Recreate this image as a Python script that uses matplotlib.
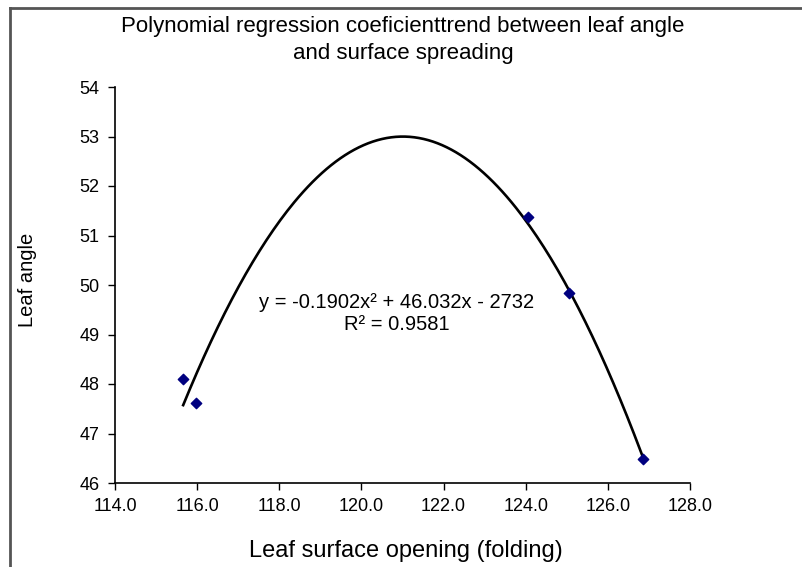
import numpy as np
import matplotlib
matplotlib.use("Agg")
import matplotlib.pyplot as plt
from matplotlib.lines import Line2D

plt.rcParams['font.family'] = ['Liberation Sans', 'DejaVu Sans']

# Data
leaf_surface_opening = [115.66, 115.97, 124.05, 125.05, 126.86]
leaf_angle = [48.10, 47.62, 51.37, 49.84, 46.48]

title = "Polynomial regression coeficienttrend between leaf angle\nand surface spreading"
xlabel = "Leaf surface opening (folding)"
ylabel = "Leaf angle"
equation_text = "y = -0.1902x\u00b2 + 46.032x - 2732\nR\u00b2 = 0.9581"
x_ticks = [114.0, 116.0, 118.0, 120.0, 122.0, 124.0, 126.0, 128.0]
y_ticks = [46, 47, 48, 49, 50, 51, 52, 53, 54]

W, H = 803, 567
fig = plt.figure(figsize=(W / 100, H / 100), dpi=100)
ax = fig.add_axes([115 / W, 1 - 483 / H, (690 - 115) / W, (483 - 87) / H])

# Polynomial (order 2) trendline fitted to the data
coef = np.polyfit(leaf_surface_opening, leaf_angle, 2)
xs = np.linspace(min(leaf_surface_opening), max(leaf_surface_opening), 200)
ax.plot(xs, np.polyval(coef, xs), color='black', lw=1.9, zorder=2)

ax.scatter(leaf_surface_opening, leaf_angle, marker='D', s=28, color='#000080', zorder=3)

ax.set_xlim(114, 128)
ax.set_ylim(46, 54)
ax.set_xticks(x_ticks)
ax.set_xticklabels([f"{t:.1f}" for t in x_ticks])
ax.set_yticks(y_ticks)
ax.set_yticklabels([str(t) for t in y_ticks])
ax.tick_params(direction='out', length=5, width=1, labelsize=13, colors='black', pad=6)
for s in ['top', 'right']:
    ax.spines[s].set_visible(False)
for s in ['left', 'bottom']:
    ax.spines[s].set_linewidth(1.2)

ax.text(120.85, 49.43, equation_text, ha='center', va='center', fontsize=14.5, linespacing=1.2)

fig.text(403 / W, 1 - 40 / H, title, ha='center', va='center', fontsize=16, linespacing=1.4)
fig.text(406 / W, 1 - 551 / H, xlabel, ha='center', va='center', fontsize=17)
fig.text(28 / W, 1 - 280 / H, ylabel, ha='center', va='center', fontsize=14.5, rotation=90)

# Chart border (left and top only visible)
fig.add_artist(Line2D([10 / W, 10 / W], [0, 1 - 8 / H], transform=fig.transFigure, color='#555555', lw=2))
fig.add_artist(Line2D([10 / W, 1], [1 - 8 / H, 1 - 8 / H], transform=fig.transFigure, color='#555555', lw=2))

fig.savefig("out.png", dpi=100)
